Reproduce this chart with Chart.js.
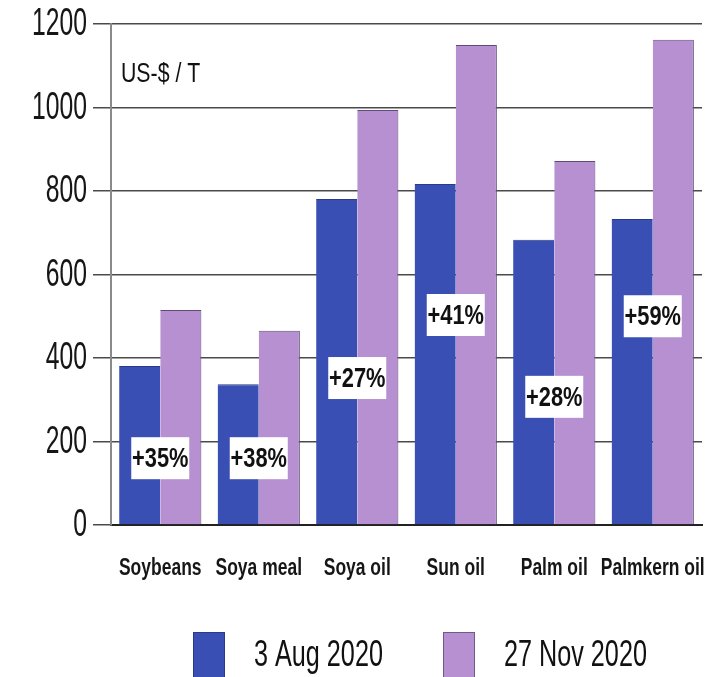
<!DOCTYPE html>
<html>
<head>
<meta charset="utf-8">
<script src="https://cdn.jsdelivr.net/npm/chart.js@4"></script>
<style>
  html, body { margin: 0; padding: 0; background: #fff; }
  #wrap { width: 712px; height: 677px; }
</style>
</head>
<body>
<div id="wrap"><canvas id="myChart" width="712" height="677"></canvas></div>
<script>
const categories = ['Soybeans', 'Soya meal', 'Soya oil', 'Sun oil', 'Palm oil', 'Palmkern oil'];
const augPrices = [381, 337, 781, 817, 683, 733];
const novPrices = [515, 465, 994, 1150, 872, 1162];
const changeLabels = ['+35%', '+38%', '+27%', '+41%', '+28%', '+59%'];
const yTicks = [0, 200, 400, 600, 800, 1000, 1200];
const seriesNames = ['3 Aug 2020', '27 Nov 2020'];

const FONT = '"Liberation Sans", Arial, sans-serif';
const BLUE = '#3a4fb3';
const LILAC = '#b690d0';

// where each change label sits, in price units (centred on the category)
const labelLevels = [160, 160, 352, 503, 307, 500];

// condensed text: squeeze horizontally around the anchor point
function narrowText(ctx, txt, x, y, font, squeeze, align) {
  ctx.save();
  ctx.translate(x, y);
  ctx.scale(squeeze, 1);
  ctx.font = font;
  ctx.textAlign = align;
  ctx.textBaseline = 'middle';
  ctx.fillText(txt, 0, 0);
  ctx.restore();
}

const axisTextPlugin = {
  id: 'axisText',
  afterDraw(chart) {
    const { ctx, scales } = chart;
    ctx.save();
    ctx.fillStyle = '#161616';
    scales.y.ticks.forEach(t => {
      narrowText(ctx, String(t.value), 87, scales.y.getPixelForValue(t.value) + 1,
        '38px ' + FONT, 0.65, 'right');
    });
    categories.forEach((c, i) => {
      narrowText(ctx, c, scales.x.getPixelForValue(i), 569, 'bold 23px ' + FONT, 0.76, 'center');
    });
    ctx.restore();
  }
};

const changeLabelPlugin = {
  id: 'changeLabels',
  afterDatasetsDraw(chart) {
    const { ctx, scales } = chart;
    ctx.save();
    changeLabels.forEach((txt, i) => {
      const x = scales.x.getPixelForValue(i);
      const y = scales.y.getPixelForValue(labelLevels[i]);
      const w = 58, h = 42;
      ctx.fillStyle = '#fff';
      ctx.fillRect(x - w / 2, y - h / 2, w, h);
      ctx.fillStyle = '#111';
      narrowText(ctx, txt, x, y + 1, 'bold 28px ' + FONT, 0.78, 'center');
    });
    // unit note in the upper left corner of the plot
    ctx.fillStyle = '#111';
    narrowText(ctx, 'US-$ / T', chart.chartArea.left + 10, 74, '28px ' + FONT, 0.76, 'left');
    ctx.restore();
  }
};

// big square legend under the axis labels
const bottomLegendPlugin = {
  id: 'bottomLegend',
  afterDraw(chart) {
    const { ctx } = chart;
    const items = [
      { x: 193, color: BLUE, border: '#2b3a88' },
      { x: 443, color: LILAC, border: '#6f5b88' }
    ];
    ctx.save();
    items.forEach((it, i) => {
      ctx.fillStyle = it.color;
      ctx.fillRect(it.x, 632, 32, 48);
      ctx.strokeStyle = it.border;
      ctx.lineWidth = 1;
      ctx.strokeRect(it.x + 0.5, 632.5, 31, 47);
      ctx.fillStyle = '#111';
      narrowText(ctx, chart.data.datasets[i].label, it.x + 61, 656, '36px ' + FONT, 0.7, 'left');
    });
    ctx.restore();
  }
};

const canvas = document.getElementById('myChart');

new Chart(canvas, {
  type: 'bar',
  data: {
    labels: categories,
    datasets: [
      {
        label: seriesNames[0],
        data: augPrices,
        backgroundColor: BLUE,
        borderColor: '#2b3a88',
        borderWidth: { top: 1, left: 0, right: 0, bottom: 0 }
      },
      {
        label: seriesNames[1],
        data: novPrices,
        backgroundColor: LILAC,
        borderColor: '#5e4c78',
        borderWidth: { top: 1, left: 0, right: 1, bottom: 0 }
      }
    ]
  },
  options: {
    responsive: false,
    animation: false,
    layout: { padding: { top: 24, right: 10, bottom: 82, left: 0 } },
    datasets: {
      bar: { categoryPercentage: 0.835, barPercentage: 1.0 }
    },
    scales: {
      x: {
        grid: { display: false },
        border: { display: true, color: '#222', width: 2 },
        ticks: { display: false },
        afterFit(scale) { scale.height = 70; }
      },
      y: {
        min: 0,
        max: 1200,
        afterBuildTicks(scale) { scale.ticks = yTicks.map(v => ({ value: v })); },
        grid: {
          color: '#4a4a4a',
          lineWidth: 1.5,
          tickLength: 18,
          drawTicks: true
        },
        border: { display: true, color: '#8a8a8a', width: 2 },
        ticks: { display: false },
        afterFit(scale) { scale.width = 111; }
      }
    },
    plugins: {
      legend: { display: false },
      tooltip: { enabled: false }
    }
  },
  plugins: [changeLabelPlugin, axisTextPlugin, bottomLegendPlugin]
});
</script>
</body>
</html>
